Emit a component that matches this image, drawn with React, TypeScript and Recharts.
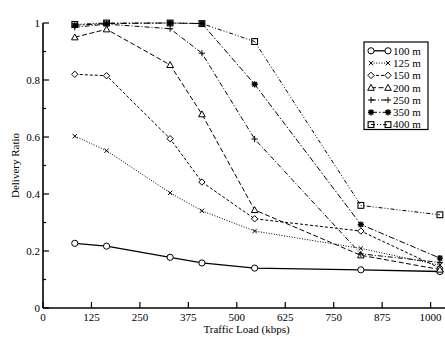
import React from 'react';
import { LineChart, Line, XAxis, YAxis, Label } from 'recharts';

const loads = [82, 164, 328, 410, 546, 820, 1024];
const r100 = [0.227, 0.217, 0.178, 0.158, 0.14, 0.134, 0.128];
const r125 = [0.603, 0.552, 0.404, 0.341, 0.27, 0.209, 0.15];
const r150 = [0.82, 0.815, 0.594, 0.442, 0.313, 0.27, 0.14];
const r200 = [0.95, 0.978, 0.853, 0.68, 0.344, 0.185, 0.135];
const r250 = [0.985, 0.996, 0.98, 0.894, 0.593, 0.19, 0.16];
const r350 = [0.992, 0.998, 1.0, 0.998, 0.785, 0.293, 0.175];
const r400 = [0.995, 1.0, 1.0, 0.998, 0.935, 0.36, 0.327];

const seriesNames = ['100 m', '125 m', '150 m', '200 m', '250 m', '350 m', '400 m'];
const seriesValues = [r100, r125, r150, r200, r250, r350, r400];
const xTicks = [0, 125, 250, 375, 500, 625, 750, 875, 1000];
const yTicks = [0, 0.1, 0.2, 0.3, 0.4, 0.5, 0.6, 0.7, 0.8, 0.9, 1];

const styles = [
  { key: 'r100', shape: 'circle', dash: undefined, width: 1.3 },
  { key: 'r125', shape: 'x', dash: '1 1.6', width: 1 },
  { key: 'r150', shape: 'diamond', dash: '3 2', width: 1 },
  { key: 'r200', shape: 'triangle', dash: '5 2.5', width: 1 },
  { key: 'r250', shape: 'plus', dash: '5 2 1 2', width: 1 },
  { key: 'r350', shape: 'star', dash: '6 2 1.5 2', width: 1 },
  { key: 'r400', shape: 'square', dash: '4 2 1 2 1 2', width: 1 },
];

const data = loads.map((load, i) => {
  const row: any = { load };
  styles.forEach((s, j) => {
    row[s.key] = seriesValues[j][i];
  });
  return row;
});

const FONT = '"Liberation Serif", "Times New Roman", serif';

function Marker({ shape, cx, cy }: { shape: string; cx: number; cy: number }) {
  const common = { stroke: '#000', strokeWidth: 1, fill: '#fff' };
  switch (shape) {
    case 'circle':
      return <circle cx={cx} cy={cy} r={3.1} {...common} />;
    case 'x':
      return (
        <path
          d={`M${cx - 2.2},${cy - 2.2}L${cx + 2.2},${cy + 2.2}M${cx - 2.2},${cy + 2.2}L${cx + 2.2},${cy - 2.2}`}
          {...common}
          fill="none"
        />
      );
    case 'diamond':
      return <path d={`M${cx},${cy - 3.2}L${cx + 3.2},${cy}L${cx},${cy + 3.2}L${cx - 3.2},${cy}Z`} {...common} />;
    case 'triangle':
      return <path d={`M${cx},${cy - 3.3}L${cx + 3.3},${cy + 2.6}L${cx - 3.3},${cy + 2.6}Z`} {...common} />;
    case 'plus':
      return <path d={`M${cx - 3.1},${cy}H${cx + 3.1}M${cx},${cy - 3.1}V${cy + 3.1}`} {...common} fill="none" />;
    case 'star':
      return (
        <path
          d={`M${cx - 3.1},${cy}H${cx + 3.1}M${cx},${cy - 3.1}V${cy + 3.1}M${cx - 2.3},${cy - 2.3}L${cx + 2.3},${cy + 2.3}M${cx - 2.3},${cy + 2.3}L${cx + 2.3},${cy - 2.3}`}
          {...common}
          strokeWidth={1.4}
          fill="none"
        />
      );
    default:
      return <rect x={cx - 2.9} y={cy - 2.9} width={5.8} height={5.8} {...common} fill="none" strokeWidth={1.1} />;
  }
}

const BottomTick = (props: any) => {
  const { x, y, payload } = props;
  return (
    <g>
      <line x1={x} y1={y} x2={x} y2={y - 6} stroke="#000" strokeWidth={1.2} />
      <text x={x} y={y + 13} textAnchor="middle" fontSize={11} fontFamily={FONT} fill="#000">
        {payload.value}
      </text>
    </g>
  );
};

const TopTick = (props: any) => {
  const { x, y } = props;
  return <line x1={x} y1={y} x2={x} y2={y + 6} stroke="#000" strokeWidth={1.2} />;
};

const isMajor = (v: number) => Math.round(v * 10) % 2 === 0;

const LeftTick = (props: any) => {
  const { x, y, payload } = props;
  const major = isMajor(payload.value);
  return (
    <g>
      <line x1={x} y1={y} x2={x + (major ? 6 : 3)} y2={y} stroke="#000" strokeWidth={1.2} />
      {major && (
        <text x={x - 3} y={y + 4} textAnchor="end" fontSize={11} fontFamily={FONT} fill="#000">
          {String(payload.value)}
        </text>
      )}
    </g>
  );
};

const RightTick = (props: any) => {
  const { x, y, payload } = props;
  const major = isMajor(payload.value);
  return <line x1={x} y1={y} x2={x - (major ? 6 : 3)} y2={y} stroke="#000" strokeWidth={1.2} />;
};

function LegendBox() {
  return (
    <svg
      width={66}
      height={90}
      style={{ position: 'absolute', left: 363, top: 41, overflow: 'visible' }}
    >
      <rect x={1} y={1} width={64} height={87.5} fill="#fff" stroke="#000" strokeWidth={1.2} />
      {seriesNames.map((name, i) => {
        const s = styles[i];
        const y = 9.8 + i * 12.3;
        return (
          <g key={name}>
            <line x1={8} y1={y} x2={25} y2={y} stroke="#000" strokeWidth={s.width} strokeDasharray={s.dash} />
            <Marker shape={s.shape} cx={8} cy={y} />
            <Marker shape={s.shape} cx={25} cy={y} />
            <text x={30} y={y + 3.8} fontSize={11} fontFamily={FONT} fill="#000">
              {name}
            </text>
          </g>
        );
      })}
    </svg>
  );
}

export default function App() {
  return (
    <div
      style={{
        position: 'fixed',
        left: 0,
        top: 0,
        width: 445,
        height: 340,
        overflow: 'hidden',
        background: '#fff',
      }}
    >
      <LineChart width={452} height={340} data={data} margin={{ top: 23, right: 0, bottom: 0, left: 0 }}>
        <XAxis
          xAxisId="bottom"
          dataKey="load"
          type="number"
          domain={[0, 1050]}
          ticks={xTicks}
          interval={0}
          height={32}
          tickSize={0}
          tickMargin={0}
          tickLine={false}
          tick={<BottomTick />}
          axisLine={{ stroke: '#000', strokeWidth: 1.6 }}
        >
          <Label
            content={(p: any) => {
              const vb = p.viewBox || { x: 43, y: 308, width: 407 };
              return (
                <text x={vb.x + vb.width / 2} y={vb.y + 25} textAnchor="middle" fontSize={11} fontFamily={FONT} fill="#000">
                  Traffic Load (kbps)
                </text>
              );
            }}
          />
        </XAxis>
        <XAxis
          xAxisId="top"
          orientation="top"
          dataKey="load"
          type="number"
          domain={[0, 1050]}
          ticks={xTicks}
          interval={0}
          height={0}
          tickSize={0}
          tickMargin={0}
          tickLine={false}
          tick={<TopTick />}
          axisLine={{ stroke: '#000', strokeWidth: 1.6 }}
        >
          <Label
            content={(p: any) => {
              const vb = p.viewBox || { x: 43, y: 23, width: 407 };
              return (
                <text x={vb.x + vb.width / 2} y={15.5} textAnchor="middle" fontSize={11.5} fontFamily={FONT} fill="#000">
                  AODV 10 m/s
                </text>
              );
            }}
          />
        </XAxis>
        <YAxis
          yAxisId="left"
          type="number"
          domain={[0, 1]}
          ticks={yTicks}
          interval={0}
          width={43}
          tickSize={0}
          tickMargin={0}
          tickLine={false}
          tick={<LeftTick />}
          axisLine={{ stroke: '#000', strokeWidth: 1.6 }}
        >
          <Label
            content={(p: any) => {
              const vb = p.viewBox || { x: 0, y: 23, height: 285 };
              const cy = vb.y + vb.height / 2;
              return (
                <text
                  x={15}
                  y={cy}
                  transform={`rotate(-90 15 ${cy})`}
                  textAnchor="middle"
                  dominantBaseline="central"
                  fontSize={11}
                  fontFamily={FONT}
                  fill="#000"
                >
                  Delivery Ratio
                </text>
              );
            }}
          />
        </YAxis>
        <YAxis
          yAxisId="right"
          orientation="right"
          type="number"
          domain={[0, 1]}
          ticks={yTicks}
          interval={0}
          width={2}
          tickSize={0}
          tickMargin={0}
          tickLine={false}
          tick={<RightTick />}
          axisLine={{ stroke: '#000', strokeWidth: 1.6 }}
        />
        {styles.map((s, i) => (
          <Line
            key={s.key}
            xAxisId="bottom"
            yAxisId="left"
            dataKey={s.key}
            name={seriesNames[i]}
            stroke="#000"
            strokeWidth={s.width}
            strokeDasharray={s.dash}
            isAnimationActive={false}
            dot={(p: any) => <Marker key={`${s.key}-${p.index}`} shape={s.shape} cx={p.cx} cy={p.cy} />}
            activeDot={false}
          />
        ))}
      </LineChart>
      <LegendBox />
    </div>
  );
}
